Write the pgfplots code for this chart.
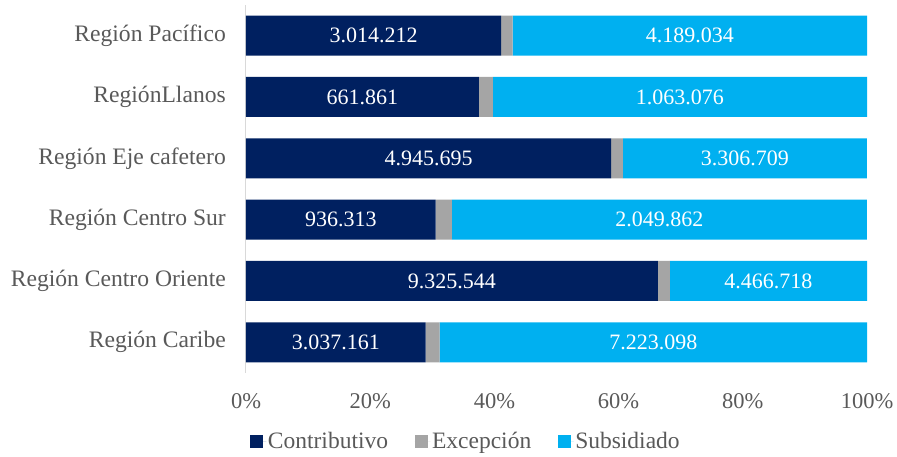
\documentclass[border=0pt]{standalone}
\usepackage{fontspec}
\setmainfont{Liberation Serif}
\usepackage{pgfplots}
\usepackage{pgfplotstable}
\pgfplotsset{compat=1.18}
\definecolor{navy}{HTML}{002060}
\definecolor{exgray}{HTML}{A5A5A5}
\definecolor{sky}{HTML}{00B0F0}
\definecolor{txt}{HTML}{595959}
\definecolor{axgray}{HTML}{D9D9D9}
\pgfplotstableread{
idx C E S
0 3037161 235000 7223098
1 9325544 272000 4466718
2 936313 80000 2049862
3 4945695 160000 3306709
4 661861 40000 1063076
5 3014212 135000 4189034
}\datatable
\begin{document}
\begin{tikzpicture}[font=\fontsize{22}{26}\selectfont]
\useasboundingbox (0,0) rectangle (897pt,457pt);
\pgfplotsset{base/.style={scale only axis, width=621pt, height=368pt,
  at={(246pt,84pt)}, anchor=south west,
  xmin=0, xmax=100, ymin=-0.5, ymax=5.5}}
\begin{axis}[base,
  xbar stacked, bar width=40pt,
  axis lines*=left,
  x axis line style={draw=none},
  y axis line style={draw=axgray, line width=1pt},
  major tick length=0pt,
  xtick={0,20,40,60,80,100},
  xticklabels={0\%,20\%,40\%,60\%,80\%,100\%},
  ytick={0,1,2,3,4,5},
  yticklabels={Región Caribe,Región Centro Oriente,Región Centro Sur,Región Eje cafetero,RegiónLlanos,Región Pacífico},
  every tick label/.append style={font=\fontsize{22.5}{26}\selectfont, text=txt},
  xticklabel style={anchor=north, inner sep=0pt, yshift=-20pt},
  yticklabel style={anchor=east, inner sep=0pt, xshift=-20pt, font=\fontsize{23.6}{26}\selectfont},
  legend columns=3,
  legend style={draw=none, fill=none, at={(axis description cs:0.354,-0.185)}, anchor=center,
    font=\fontsize{23.5}{26}\selectfont, text=txt,
    nodes={inner sep=1.5pt},
    /tikz/every even column/.append style={column sep=25pt}},
  legend image code/.code={\path (0pt,0pt) -- (16pt,0pt);\fill[#1] (0pt,-6.5pt) rectangle (13pt,6.5pt);},
]
\addplot[fill=navy, draw=none] table[x expr=100*\thisrow{C}/(\thisrow{C}+\thisrow{E}+\thisrow{S}), y=idx]{\datatable};
\addlegendentry{Contributivo}
\addplot[fill=exgray, draw=none] table[x expr=100*\thisrow{E}/(\thisrow{C}+\thisrow{E}+\thisrow{S}), y=idx]{\datatable};
\addlegendentry{Excepción}
\addplot[fill=sky, draw=none] table[x expr=100*\thisrow{S}/(\thisrow{C}+\thisrow{E}+\thisrow{S}), y=idx]{\datatable};
\addlegendentry{Subsidiado}
\end{axis}
\begin{axis}[base, hide axis]
\addplot[only marks, mark=none, point meta=\thisrow{C},
  nodes near coords={\pgfmathprintnumber[fixed,precision=0,1000 sep={.},assume math mode=true]{\pgfplotspointmeta}},
  every node near coord/.style={anchor=center, text=white, font=\fontsize{22}{26}\selectfont}]
  table[x expr=50*\thisrow{C}/(\thisrow{C}+\thisrow{E}+\thisrow{S}), y=idx]{\datatable};
\addplot[only marks, mark=none, point meta=\thisrow{S},
  nodes near coords={\pgfmathprintnumber[fixed,precision=0,1000 sep={.},assume math mode=true]{\pgfplotspointmeta}},
  every node near coord/.style={anchor=center, text=white, font=\fontsize{22}{26}\selectfont}]
  table[x expr=100*(\thisrow{C}+\thisrow{E}+0.5*\thisrow{S})/(\thisrow{C}+\thisrow{E}+\thisrow{S}), y=idx]{\datatable};
\end{axis}
\end{tikzpicture}
\end{document}
